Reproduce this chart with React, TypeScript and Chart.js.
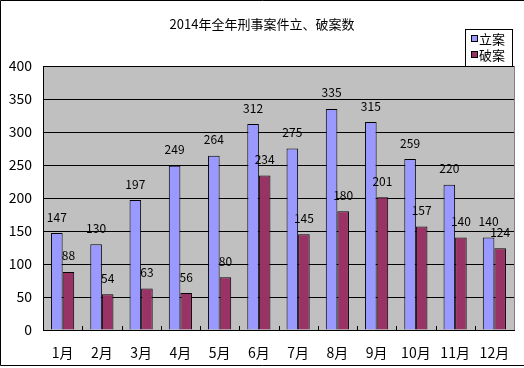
import React, { useEffect, useRef } from "react";
import { Chart, registerables } from "chart.js";

Chart.register(...registerables);

const TITLE = "2014年全年刑事案件立、破案数";
const MONTHS = ["1月", "2月", "3月", "4月", "5月", "6月", "7月", "8月", "9月", "10月", "11月", "12月"];
const FILED_LABEL = "立案";
const SOLVED_LABEL = "破案";
const FILED = [147, 130, 197, 249, 264, 312, 275, 335, 315, 259, 220, 140];
const SOLVED = [88, 54, 63, 56, 80, 234, 145, 180, 201, 157, 140, 124];
const Y_MIN = 0;
const Y_MAX = 400;
const Y_STEP = 50;

const BLUE = "#9999FF";
const RED = "#993366";
const FONT = "'Noto Sans CJK SC', 'DejaVu Sans', sans-serif";

const decorPlugin = {
  id: "decor",
  beforeDraw(chart: any) {
    const { ctx, chartArea: a } = chart;
    ctx.save();
    ctx.fillStyle = "#ffffff";
    ctx.fillRect(0, 0, chart.width, chart.height);
    ctx.fillStyle = "#C0C0C0";
    ctx.fillRect(a.left, a.top, a.right - a.left, a.bottom - a.top);
    ctx.restore();
  },
  afterDatasetsDraw(chart: any) {
    const { ctx, chartArea: a } = chart;
    ctx.save();
    // plot border
    ctx.strokeStyle = "#808080";
    ctx.lineWidth = 1;
    ctx.beginPath();
    ctx.moveTo(a.right + 0.5, a.top);
    ctx.lineTo(a.right + 0.5, a.bottom);
    ctx.stroke();
    ctx.strokeStyle = "#000000";
    ctx.beginPath();
    ctx.moveTo(a.left + 0.5, a.top);
    ctx.lineTo(a.left + 0.5, a.bottom + 0.5);
    ctx.lineTo(a.right + 1, a.bottom + 0.5);
    ctx.stroke();
    // inner category ticks
    const n = MONTHS.length;
    const w = (a.right - a.left) / n;
    ctx.beginPath();
    for (let i = 1; i < n; i++) {
      const x = Math.round(a.left + i * w) + 0.5;
      ctx.moveTo(x, a.bottom);
      ctx.lineTo(x, a.bottom - 4);
    }
    ctx.stroke();
    // data labels
    ctx.fillStyle = "#000000";
    ctx.font = `12px ${FONT}`;
    ctx.textAlign = "center";
    ctx.textBaseline = "middle";
    chart.data.datasets.forEach((ds: any, di: number) => {
      const meta = chart.getDatasetMeta(di);
      meta.data.forEach((el: any, i: number) => {
        ctx.fillText(String(ds.data[i]), el.x, el.y - 16);
      });
    });
    ctx.restore();
  },
  afterDraw(chart: any) {
    const { ctx } = chart;
    ctx.save();
    // title
    ctx.fillStyle = "#000000";
    ctx.font = `13px ${FONT}`;
    ctx.textAlign = "center";
    ctx.textBaseline = "middle";
    ctx.fillText(TITLE, 262, 24);
    // legend
    ctx.fillStyle = "#ffffff";
    ctx.fillRect(465, 29, 47, 37);
    ctx.strokeStyle = "#000000";
    ctx.lineWidth = 1;
    ctx.strokeRect(465.5, 29.5, 47, 37);
    const items = [
      { label: FILED_LABEL, color: BLUE, y: 39 },
      { label: SOLVED_LABEL, color: RED, y: 55 },
    ];
    ctx.font = `13px ${FONT}`;
    ctx.textAlign = "left";
    items.forEach((it) => {
      ctx.fillStyle = it.color;
      ctx.fillRect(472, it.y - 3, 5, 5);
      ctx.strokeRect(471.5, it.y - 3.5, 6, 6);
      ctx.fillStyle = "#000000";
      ctx.fillText(it.label, 479, it.y);
    });
    // outer border
    ctx.beginPath();
    ctx.moveTo(530, 0.5);
    ctx.lineTo(0.5, 0.5);
    ctx.lineTo(0.5, 365.5);
    ctx.lineTo(530, 365.5);
    ctx.stroke();
    ctx.restore();
  },
};

export default function App() {
  const ref = useRef<HTMLCanvasElement | null>(null);
  useEffect(() => {
    if (!ref.current) return;
    const chart = new Chart(ref.current, {
      type: "bar",
      data: {
        labels: MONTHS,
        datasets: [
          { label: FILED_LABEL, data: FILED, backgroundColor: BLUE, borderColor: "#000000", borderWidth: 1 },
          { label: SOLVED_LABEL, data: SOLVED, backgroundColor: RED, borderColor: "#000000", borderWidth: 1 },
        ],
      },
      options: {
        responsive: false,
        animation: false,
        devicePixelRatio: 1,
        layout: { padding: { top: 66, right: 10, left: 0, bottom: 0 } },
        datasets: { bar: { categoryPercentage: 0.59, barPercentage: 1 } },
        plugins: { legend: { display: false }, title: { display: false }, tooltip: { enabled: false } },
        scales: {
          x: {
            grid: { display: false },
            border: { display: false },
            ticks: { color: "#000000", font: { family: FONT, size: 14 }, padding: 6, maxRotation: 0, autoSkip: false },
            afterFit(scale: any) {
              scale.height = 38;
            },
          },
          y: {
            min: Y_MIN,
            max: Y_MAX,
            grid: { color: "#000000", lineWidth: 1, drawTicks: false },
            border: { display: false },
            ticks: { stepSize: Y_STEP, color: "#000000", font: { family: FONT, size: 14 }, padding: 11 },
            afterFit(scale: any) {
              scale.width = 43;
            },
          },
        },
      },
      plugins: [decorPlugin],
    });
    return () => chart.destroy();
  }, []);
  return (
    <div style={{ position: "fixed", left: 0, top: 0, width: 524, height: 368, background: "#fff" }}>
      <canvas ref={ref} width={524} height={368} />
    </div>
  );
}
